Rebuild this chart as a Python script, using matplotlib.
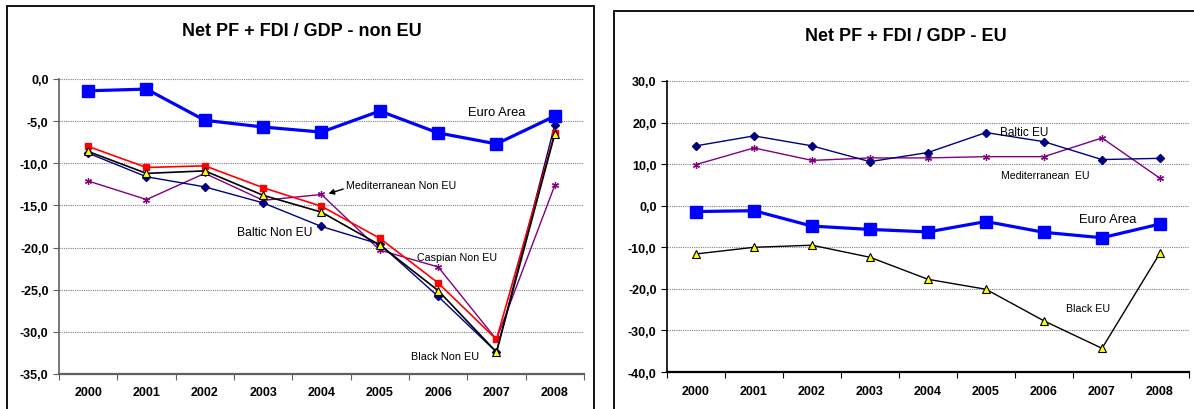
import numpy as np
import matplotlib
matplotlib.use("Agg")
import matplotlib.pyplot as plt
from matplotlib.patches import Rectangle
from matplotlib.ticker import FuncFormatter

plt.rcParams['font.family'] = ['Liberation Sans', 'DejaVu Sans']

years = ['2000', '2001', '2002', '2003', '2004', '2005', '2006', '2007', '2008']

# shared series
euro_area = [-1.4, -1.2, -4.9, -5.7, -6.3, -3.8, -6.4, -7.7, -4.4]

# non EU regions
baltic_non_eu = [-8.8, -11.6, -12.8, -14.7, -17.5, -19.6, -25.8, -32.4, -5.4]
caspian_non_eu = [-8.0, -10.5, -10.3, -12.9, -15.1, -18.9, -24.2, -30.9, -6.4]
black_non_eu = [-8.6, -11.2, -10.9, -13.8, -15.8, -19.7, -25.1, -32.4, -6.5]
medit_non_eu = [-12.1, -14.3, -11.2, -14.4, -13.7, -20.3, -22.3, -30.9, -12.6]

# EU regions
baltic_eu = [14.4, 16.8, 14.4, 10.6, 12.8, 17.6, 15.4, 11.1, 11.4]
medit_eu = [9.9, 13.9, 10.9, 11.5, 11.5, 11.8, 11.8, 16.3, 6.6]
black_eu = [-11.6, -10.0, -9.5, -12.4, -17.7, -20.1, -27.7, -34.3, -11.4]

x = np.arange(len(years))

fig = plt.figure(figsize=(11.94, 4.10), dpi=100)

# chart frames
fig.patches.append(Rectangle((0.0059, -0.1), 0.4916, 1.083, transform=fig.transFigure,
                             fill=False, edgecolor='black', linewidth=1.3, clip_on=False))
fig.patches.append(Rectangle((0.5142, -0.1), 0.6, 1.0707, transform=fig.transFigure,
                             fill=False, edgecolor='black', linewidth=1.3, clip_on=False))

ax1 = fig.add_axes([0.0494, 0.0854, 0.4397, 0.7195])
ax2 = fig.add_axes([0.5586, 0.0902, 0.4372, 0.7098])

comma = FuncFormatter(lambda v, p: f"{v:.1f}".replace('.', ','))


def style_axes(ax, lo, hi, step, spine_col):
    ax.set_xlim(-0.5, len(years) - 0.5)
    ax.set_ylim(lo, hi)
    ax.set_yticks(np.arange(lo, hi + 0.1, step))
    ax.yaxis.set_major_formatter(comma)
    ax.set_xticks(np.arange(-0.5, len(years), 1.0))
    ax.set_xticklabels([])
    ax.set_xticks(x, minor=True)
    ax.set_xticklabels(years, minor=True)
    ax.tick_params(axis='x', which='major', direction='out', length=4, color=spine_col)
    ax.tick_params(axis='x', which='minor', length=0, pad=9)
    ax.tick_params(axis='y', direction='out', length=4, color=spine_col)
    for lab in ax.get_xticklabels(minor=True) + ax.get_yticklabels():
        lab.set_fontweight('bold')
        lab.set_fontsize(9)
    ax.grid(axis='y', color='#808080', linestyle=(0, (1, 1)), linewidth=0.8)
    ax.set_axisbelow(True)
    ax.spines['top'].set_visible(False)
    ax.spines['right'].set_visible(False)
    ax.spines['left'].set_color(spine_col)
    ax.spines['bottom'].set_color(spine_col)
    ax.spines['left'].set_linewidth(1.2)
    ax.spines['bottom'].set_linewidth(1.6)


# left chart: non EU
style_axes(ax1, -35, 0, 5, '#606060')
ax1.plot(x, medit_non_eu, color='#800080', lw=1, marker=(6, 2, 0), ms=5, mew=0.9)
ax1.plot(x, baltic_non_eu, color='#000080', lw=1, marker='D', ms=4.5)
ax1.plot(x, caspian_non_eu, color='#FF0000', lw=1.2, marker='s', ms=5)
ax1.plot(x, black_non_eu, color='black', lw=1.2, marker='^', ms=6, mfc='#FFFF00', mec='black', mew=0.8)
ax1.plot(x, euro_area, color='#0000FF', lw=2.3, marker='s', ms=8.5)

ax1.text(7.0, -3.9, 'Euro Area', fontsize=9.3, ha='center', va='center')
ax1.annotate('Mediterranean Non EU', xy=(4.12, -13.6), xytext=(4.42, -12.55),
             fontsize=7.7, ha='left', va='center',
             arrowprops=dict(arrowstyle='-|>', color='black', lw=1, shrinkA=0, shrinkB=0,
                             mutation_scale=8, relpos=(0.1, 0.5)))
ax1.text(3.2, -18.1, 'Baltic Non EU', fontsize=8.7, ha='center', va='center')
ax1.text(6.33, -21.1, 'Caspian Non EU', fontsize=7.7, ha='center', va='center')
ax1.text(6.12, -32.9, 'Black Non EU', fontsize=7.8, ha='center', va='center')

fig.text(0.253, 0.922, 'Net PF + FDI / GDP - non EU', fontsize=13, fontweight='bold',
         ha='center', va='center')

# right chart: EU
style_axes(ax2, -40, 30, 10, 'black')
ax2.plot(x, medit_eu, color='#800080', lw=1, marker=(6, 2, 0), ms=5, mew=0.9)
ax2.plot(x, baltic_eu, color='#000080', lw=1, marker='D', ms=4.5)
ax2.plot(x, black_eu, color='black', lw=1, marker='^', ms=6, mfc='#FFFF00', mec='black', mew=0.8)
ax2.plot(x, euro_area, color='#0000FF', lw=2.3, marker='s', ms=8.5)

ax2.text(5.66, 17.8, 'Baltic EU', fontsize=8.5, ha='center', va='center')
ax2.text(6.02, 7.5, 'Mediterranean  EU', fontsize=7.6, ha='center', va='center')
ax2.text(7.09, -3.1, 'Euro Area', fontsize=9.3, ha='center', va='center')
ax2.text(6.76, -24.5, 'Black EU', fontsize=7.7, ha='center', va='center')

fig.text(0.759, 0.912, 'Net PF + FDI / GDP - EU', fontsize=13, fontweight='bold',
         ha='center', va='center')

fig.savefig('out.png', dpi=100)
